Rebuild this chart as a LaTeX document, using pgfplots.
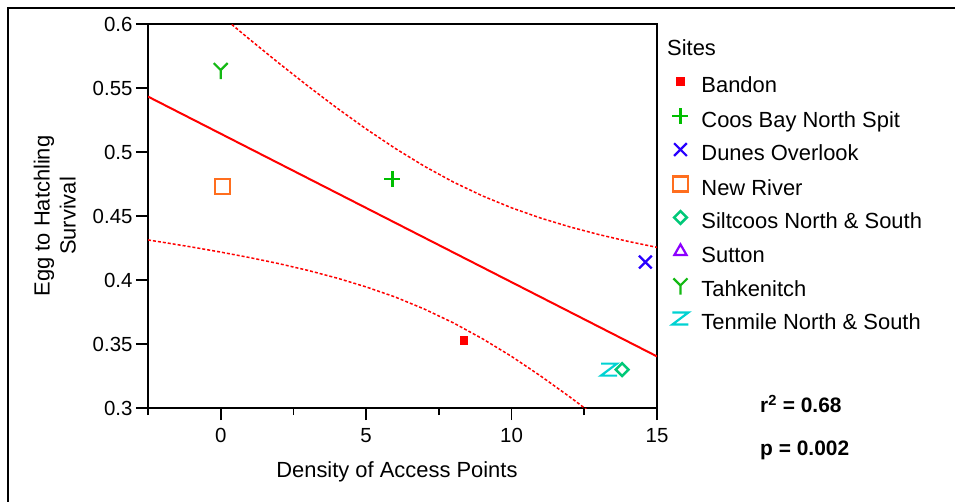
\documentclass[border=0pt]{standalone}
\usepackage{fontspec}
\setmainfont{Liberation Sans}
\usepackage{pgfplots}
\pgfplotsset{compat=1.18}
\definecolor{cRed}{RGB}{255,0,0}
\definecolor{cGreen}{RGB}{0,190,0}
\definecolor{cBlue}{RGB}{40,0,255}
\definecolor{cOrange}{RGB}{255,110,30}
\definecolor{cTeal}{RGB}{0,200,120}
\definecolor{cPurple}{RGB}{140,0,255}
\definecolor{cYgreen}{RGB}{20,185,20}
\definecolor{cCyan}{RGB}{0,210,210}
\pgfdeclareplotmark{markY}{%
  \pgfpathmoveto{\pgfqpoint{-\pgfplotmarksize}{\pgfplotmarksize}}%
  \pgfpathlineto{\pgfqpoint{0pt}{0pt}}%
  \pgfpathlineto{\pgfqpoint{\pgfplotmarksize}{\pgfplotmarksize}}%
  \pgfpathmoveto{\pgfqpoint{0pt}{0pt}}%
  \pgfpathlineto{\pgfqpoint{0pt}{-1.3\pgfplotmarksize}}%
  \pgfusepathqstroke}
\pgfdeclareplotmark{markZ}{%
  \pgfpathmoveto{\pgfqpoint{-\pgfplotmarksize}{0.75\pgfplotmarksize}}%
  \pgfpathlineto{\pgfqpoint{\pgfplotmarksize}{0.75\pgfplotmarksize}}%
  \pgfpathlineto{\pgfqpoint{-\pgfplotmarksize}{-0.75\pgfplotmarksize}}%
  \pgfpathlineto{\pgfqpoint{\pgfplotmarksize}{-0.75\pgfplotmarksize}}%
  \pgfusepathqstroke}
\begin{document}
\begin{tikzpicture}
\useasboundingbox (0bp,0bp) rectangle (955bp,-502bp);
\draw[line width=2bp] (955bp,-8bp) -- (8bp,-8bp) -- (8bp,-502bp);
\begin{axis}[
  at={(148bp,-408bp)}, anchor=south west,
  scale only axis, width=509bp, height=384bp,
  xmin=-2.5, xmax=15, ymin=0.3, ymax=0.6,
  xtick={0,5,10,15}, xticklabels={0,5,10,15},
  minor xtick={-2.5,2.5,7.5,12.5},
  ytick={0.3,0.35,0.4,0.45,0.5,0.55,0.6},
  yticklabels={0.3,0.35,0.4,0.45,0.5,0.55,0.6},
  xtick pos=bottom, ytick pos=left,
  tick align=outside,
  major tick length=12bp, minor tick length=7bp,
  every tick/.style={black, line width=1.6bp},
  axis line style={black, line width=1.6bp},
  /pgf/number format/assume math mode=true,
  tick label style={font=\fontsize{20.5}{24}\selectfont},
  xticklabel style={yshift=-5bp},
  label style={font=\fontsize{22}{26}\selectfont},
  xlabel={Density of Access Points},
  ylabel={Egg to Hatchling\\Survival},
  xlabel style={at={(axis description cs:0.489,-0.167)}, anchor=center},
  ylabel style={at={(axis description cs:-0.183,0.5)}, anchor=center, align=center},
  legend style={at={(axis description cs:1.03,0.862)}, anchor=north west,
    draw=none, fill=none, inner sep=0pt,
    font=\fontsize{22}{26}\selectfont,
    row sep=12bp, column sep=13bp,
    nodes={inner sep=0pt, text height=15bp, text depth=4bp}},
  legend cell align=left,
  legend image code/.code={\draw[#1] plot coordinates {(8bp,5.5bp)};},
]
% regression line and 95% confidence band
\addplot[cRed, line width=2bp, forget plot] coordinates {(-2.5,0.5433) (15,0.3403)};
\addplot[cRed, line width=1.5bp, dash pattern=on 3bp off 2bp, forget plot] coordinates {
(-2.5,0.6553) (-2,0.6455) (-1,0.6260) (0,0.6068) (1,0.5879) (2,0.5694) (3,0.5515)
(4,0.5343) (5,0.5180) (6,0.5028) (7,0.4889) (8,0.4765) (9,0.4657) (10,0.4564)
(11,0.4484) (12,0.4415) (13,0.4355) (14,0.4302) (15,0.4255)};
\addplot[cRed, line width=1.5bp, dash pattern=on 3bp off 2bp, forget plot] coordinates {
(-2.5,0.4313) (-2,0.4295) (-1,0.4258) (0,0.4218) (1,0.4175) (2,0.4128) (3,0.4075)
(4,0.4015) (5,0.3946) (6,0.3867) (7,0.3773) (8,0.3665) (9,0.3541) (10,0.3403)
(11,0.3250) (12,0.3087) (13,0.2915) (14,0.2736) (15,0.2551)};
% sites
\addplot[only marks, mark=square*, mark size=3.8bp, color=cRed] coordinates {(8.35,0.353)};
\addlegendentry{Bandon}
\addplot[only marks, mark=+, mark size=8bp, line width=2.5bp, color=cGreen] coordinates {(5.9,0.479)};
\addlegendentry{Coos Bay North Spit}
\addplot[only marks, mark=x, mark size=9bp, line width=2.2bp, color=cBlue] coordinates {(14.6,0.414)};
\addlegendentry{Dunes Overlook}
\addplot[only marks, mark=square, mark size=7.5bp, line width=2.2bp, color=cOrange] coordinates {(0.05,0.473)};
\addlegendentry{New River}
\addplot[only marks, mark=square, mark size=4.5bp, mark options={rotate=45}, line width=2.5bp, color=cTeal] coordinates {(13.8,0.330)};
\addlegendentry{Siltcoos North \& South}
\addlegendimage{only marks, mark=triangle, mark size=7bp, line width=2.2bp, color=cPurple}
\addlegendentry{Sutton}
\addplot[only marks, mark=markY, mark size=7bp, line width=2.2bp, color=cYgreen] coordinates {(0,0.564)};
\addlegendentry{Tahkenitch}
\addplot[only marks, mark=markZ, mark size=8bp, line width=2.2bp, color=cCyan] coordinates {(13.35,0.330)};
\addlegendentry{Tenmile North \& South}
\end{axis}
\node[anchor=west, inner sep=0pt, font=\fontsize{22}{26}\selectfont] at (667bp,-48bp) {Sites};
\node[anchor=west, inner sep=0pt, font=\fontsize{21}{24}\selectfont\bfseries] at (760bp,-404bp) {r\textsuperscript{2} = 0.68};
\node[anchor=west, inner sep=0pt, font=\fontsize{21}{24}\selectfont\bfseries] at (760bp,-450bp) {p = 0.002};
\end{tikzpicture}
\end{document}
